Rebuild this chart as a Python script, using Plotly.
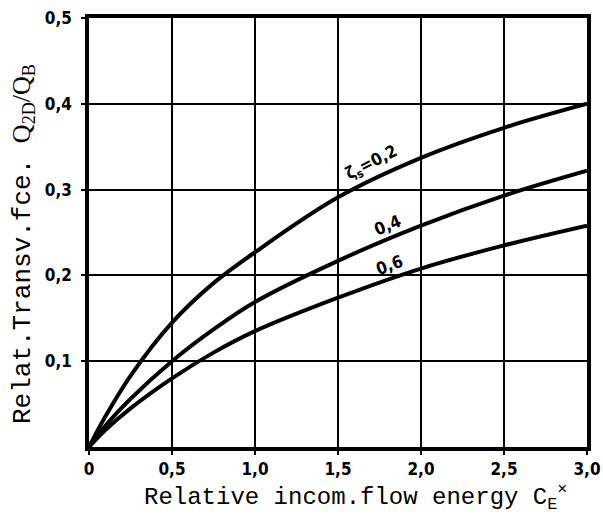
import plotly.graph_objects as go

# Data
x_vals = [0, 0.1, 0.25, 0.5, 0.75, 1.0, 1.5, 2.0, 2.5, 3.0]
zeta_02 = [0, 0.036, 0.083, 0.145, 0.191, 0.227, 0.291, 0.337, 0.372, 0.400]
zeta_04 = [0, 0.025, 0.056, 0.100, 0.137, 0.169, 0.217, 0.258, 0.293, 0.322]
zeta_06 = [0, 0.020, 0.045, 0.080, 0.110, 0.135, 0.174, 0.208, 0.235, 0.258]

x_ticks = [0, 0.5, 1.0, 1.5, 2.0, 2.5, 3.0]
x_tick_labels = ["0", "0,5", "1,0", "1,5", "2,0", "2,5", "3,0"]
y_ticks = [0.1, 0.2, 0.3, 0.4, 0.5]
y_tick_labels = ["0,1", "0,2", "0,3", "0,4", "0,5"]

curve_labels = ["ζ<sub>s</sub>=0,2", "0,4", "0,6"]
label_x = [1.70, 1.80, 1.81]
label_y = [0.331, 0.259, 0.212]
label_angle = [-27, -22, -20]

TICK_FONT = dict(family="DejaVu Sans Condensed, Liberation Sans Narrow, DejaVu Sans", size=17, color="black", weight="bold")
MONO = "Liberation Mono, DejaVu Sans Mono, monospace"

L, R, T, B = 89, 16, 18, 72
W, H = 603, 519
PW, PH = W - L - R, H - T - B


def px_to_domain(px, py):
    return (px - L) / PW, (H - B - py) / PH


fig = go.Figure()
for ys in (zeta_02, zeta_04, zeta_06):
    fig.add_trace(go.Scatter(
        x=x_vals, y=ys, mode="lines",
        line=dict(color="black", width=4, shape="spline", smoothing=1.0),
        showlegend=False, hoverinfo="skip", cliponaxis=False,
    ))

for txt, lx, ly, ang in zip(curve_labels, label_x, label_y, label_angle):
    fig.add_annotation(x=lx, y=ly, xref="x", yref="y", text=txt, showarrow=False,
                       textangle=ang, font=dict(family="DejaVu Sans Condensed, DejaVu Sans", size=17,
                                                color="black", weight="bold"))

fig.update_xaxes(
    range=[0, 3.0], tickvals=x_ticks, ticktext=x_tick_labels,
    showgrid=True, gridcolor="black", gridwidth=2,
    showline=True, linecolor="black", linewidth=3.5, mirror=True,
    zeroline=False, ticks="outside", ticklen=4, tickwidth=2, tickcolor="black",
    tickfont=TICK_FONT, automargin=False, ticklabelstandoff=0,
)
fig.update_yaxes(
    range=[0, 0.5], tickvals=y_ticks, ticktext=y_tick_labels,
    showgrid=True, gridcolor="black", gridwidth=2,
    showline=True, linecolor="black", linewidth=3.5, mirror=True,
    zeroline=False, ticks="outside", ticklen=4, tickwidth=2, tickcolor="black",
    tickfont=TICK_FONT, ticklabelstandoff=6, automargin=False,
)

# Axis titles
tx, ty = px_to_domain(355, 497)
fig.add_annotation(
    xref="x domain", yref="y domain", x=tx, y=ty, showarrow=False,
    xanchor="center", yanchor="middle",
    text="Relative incom.flow energy C<sub>E</sub><sup>×</sup>",
    font=dict(family=MONO, size=24, color="black"),
)
yx, yy = px_to_domain(23, 244)
fig.add_annotation(
    xref="x domain", yref="y domain", x=yx, y=yy,
    showarrow=False, textangle=-90, xanchor="center", yanchor="middle",
    text="Relat.Transv.fce. <span style='font-family:Liberation Serif, DejaVu Serif, serif'>Q<sub>2D</sub>/Q<sub>B</sub></span>",
    font=dict(family=MONO, size=26, color="black"),
)

fig.update_layout(
    width=W, height=H,
    margin=dict(l=L, r=R, t=T, b=B, autoexpand=False),
    paper_bgcolor="white", plot_bgcolor="white",
)

fig.write_html("out.html", config={"displayModeBar": False},
               post_script="document.body.style.margin='0';document.body.style.overflow='hidden';")
